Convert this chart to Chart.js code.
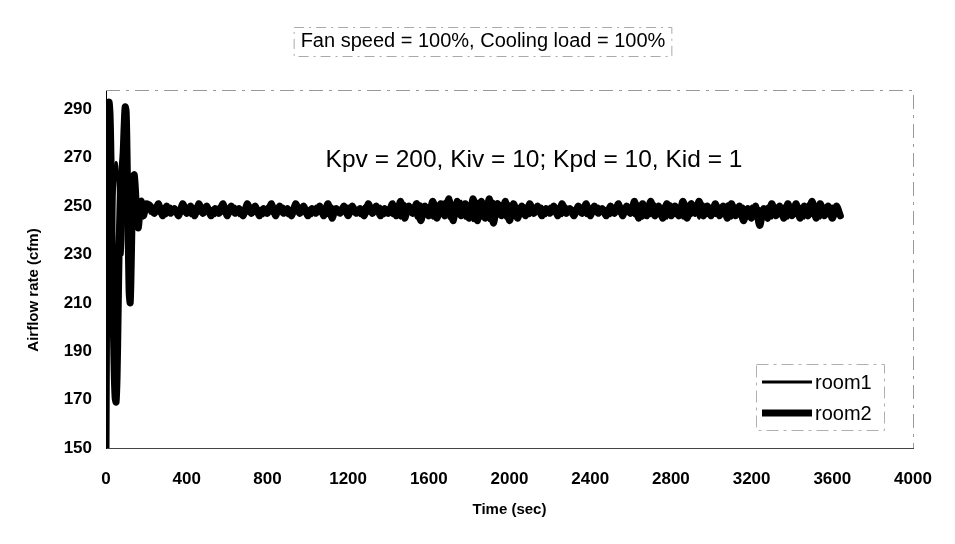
<!DOCTYPE html>
<html>
<head>
<meta charset="utf-8">
<title>Airflow rate</title>
<script src="https://cdn.jsdelivr.net/npm/chart.js@4.4.1/dist/chart.umd.min.js"></script>
<style>
  html, body { margin: 0; padding: 0; background: #fff; }
</style>
</head>
<body>
<canvas id="chart-airflow" width="955" height="544"></canvas>
<script>
const chartTitle = "Fan speed = 100%, Cooling load = 100%";
const gainNote = "Kpv = 200, Kiv = 10; Kpd = 10, Kid = 1";
const xTitle = "Time (sec)";
const yTitle = "Airflow rate (cfm)";
const seriesNames = ["room1", "room2"];
const xTicks = [0, 400, 800, 1200, 1600, 2000, 2400, 2800, 3200, 3600, 4000];
const yTicks = [150, 170, 190, 210, 230, 250, 270, 290];

// sample times (sec): 5 s steps during start-up, 20 s afterwards
const timeSec = [
  0, 5, 10, 15, 20, 25, 30, 35, 40, 45, 50, 55, 60, 65, 70, 75, 80, 85, 90, 95,
  100, 105, 110, 115, 120, 125, 130, 135, 140, 145, 150, 155, 160, 165, 170, 175, 180, 185, 190, 195, 200,
  220, 240, 260, 280, 300, 320, 340, 360, 380, 400,
  420, 440, 460, 480, 500, 520, 540, 560, 580, 600,
  620, 640, 660, 680, 700, 720, 740, 760, 780, 800,
  820, 840, 860, 880, 900, 920, 940, 960, 980, 1000,
  1020, 1040, 1060, 1080, 1100, 1120, 1140, 1160, 1180, 1200,
  1220, 1240, 1260, 1280, 1300, 1320, 1340, 1360, 1380, 1400,
  1420, 1440, 1460, 1480, 1500, 1520, 1540, 1560, 1580, 1600,
  1620, 1640, 1660, 1680, 1700, 1720, 1740, 1760, 1780, 1800,
  1820, 1840, 1860, 1880, 1900, 1920, 1940, 1960, 1980, 2000,
  2020, 2040, 2060, 2080, 2100, 2120, 2140, 2160, 2180, 2200,
  2220, 2240, 2260, 2280, 2300, 2320, 2340, 2360, 2380, 2400,
  2420, 2440, 2460, 2480, 2500, 2520, 2540, 2560, 2580, 2600,
  2620, 2640, 2660, 2680, 2700, 2720, 2740, 2760, 2780, 2800,
  2820, 2840, 2860, 2880, 2900, 2920, 2940, 2960, 2980, 3000,
  3020, 3040, 3060, 3080, 3100, 3120, 3140, 3160, 3180, 3200,
  3220, 3240, 3260, 3280, 3300, 3320, 3340, 3360, 3380, 3400,
  3420, 3440, 3460, 3480, 3500, 3520, 3540, 3560, 3580, 3600,
  3620, 3640
];

// airflow (cfm)
const room1 = [
  150, 260, 290, 285, 262, 240, 225, 232, 250, 264, 268, 265, 258, 248, 240, 232, 230, 238, 252, 262,
  264, 258, 246, 236, 232, 240, 252, 258, 256, 250, 244, 241, 244, 249, 252, 250, 247, 245, 247, 250, 251,
  247, 250, 247, 249, 246, 250, 247, 249, 247, 250,
  246, 249, 247, 250, 247, 249, 246, 250, 247, 249,
  247, 250, 246, 249, 247, 250, 247, 249, 246, 250,
  247, 249, 247, 250, 246, 249, 247, 250, 247, 249,
  246, 250, 247, 249, 246, 250, 247, 249, 247, 250,
  247, 249, 246, 250, 247, 249, 247, 250, 246, 249,
  246, 250, 245, 251, 247, 250, 245, 251, 246, 250,
  245, 251, 246, 252, 245, 251, 246, 252, 245, 251,
  244, 252, 245, 251, 244, 252, 246, 251, 245, 251,
  246, 250, 247, 250, 246, 249, 247, 250, 246, 250,
  247, 249, 246, 250, 247, 249, 247, 250, 246, 249,
  247, 250, 247, 249, 246, 250, 247, 249, 247, 250,
  246, 251, 245, 250, 246, 251, 246, 250, 245, 251,
  246, 250, 245, 251, 246, 250, 245, 251, 246, 250,
  246, 250, 246, 251, 245, 250, 246, 250, 245, 250,
  245, 249, 246, 250, 245, 250, 246, 250, 245, 250,
  246, 250, 245, 251, 246, 250, 245, 250, 246, 250,
  246, 249
];

const room2 = [
  150, 240, 287, 293, 288, 268, 238, 208, 184, 171, 169, 180, 205, 232, 252, 262, 266, 272, 283, 291,
  289, 268, 238, 214, 210, 226, 248, 260, 263, 258, 250, 243, 241, 245, 250, 252, 249, 246, 247, 250, 251,
  250, 247, 251, 246, 250, 247, 249, 246, 251, 247,
  250, 246, 251, 247, 250, 246, 249, 247, 251, 246,
  250, 247, 249, 246, 251, 247, 250, 246, 249, 247,
  251, 246, 250, 247, 249, 246, 251, 247, 250, 246,
  249, 247, 250, 246, 251, 245, 249, 247, 250, 246,
  250, 247, 249, 246, 251, 247, 250, 246, 249, 247,
  251, 246, 252, 245, 250, 247, 251, 244, 250, 246,
  252, 245, 251, 246, 253, 244, 252, 246, 251, 245,
  253, 244, 252, 245, 253, 243, 251, 246, 252, 244,
  251, 245, 250, 246, 251, 247, 250, 246, 249, 247,
  250, 246, 251, 247, 249, 246, 250, 247, 251, 246,
  250, 247, 249, 246, 250, 247, 251, 246, 250, 247,
  252, 245, 251, 246, 252, 246, 250, 245, 251, 246,
  250, 246, 252, 245, 251, 247, 252, 246, 250, 246,
  251, 246, 250, 245, 251, 246, 250, 244, 249, 245,
  250, 242, 249, 245, 251, 246, 250, 245, 251, 246,
  251, 245, 250, 246, 252, 245, 251, 246, 250, 245,
  250, 246
];

const labelFont = "'Liberation Sans', Arial, sans-serif";

function toPoints(values) {
  return timeSec.map((t, i) => ({ x: t, y: values[i] }));
}

// title, gain note, y title, legend and the faint frames
const overlayPlugin = {
  id: "overlay",
  beforeDraw(chart) {
    const ctx = chart.ctx;
    ctx.save();
    ctx.fillStyle = "#fff";
    ctx.fillRect(0, 0, chart.width, chart.height);
    ctx.restore();
  },
  afterDraw(chart) {
    const ctx = chart.ctx;
    const area = chart.chartArea;
    ctx.save();

    // plot frame (top and right)
    ctx.strokeStyle = "#9a9a9a";
    ctx.lineWidth = 1;
    ctx.setLineDash([14, 6, 3, 6]);
    ctx.beginPath();
    ctx.moveTo(area.left, area.top + 0.5);
    ctx.lineTo(area.right + 0.5, area.top + 0.5);
    ctx.lineTo(area.right + 0.5, area.bottom);
    ctx.stroke();

    // title
    ctx.setLineDash([]);
    ctx.fillStyle = "#000";
    ctx.font = "20px " + labelFont;
    ctx.textAlign = "center";
    ctx.textBaseline = "middle";
    ctx.fillText(chartTitle, 483, 41);
    const tw = ctx.measureText(chartTitle).width;
    ctx.strokeStyle = "#aaa";
    ctx.setLineDash([10, 5, 2, 5]);
    ctx.strokeRect(483 - tw / 2 - 6.5, 27.5, tw + 13, 29);

    // controller gains
    ctx.setLineDash([]);
    ctx.font = "24.5px " + labelFont;
    ctx.fillText(gainNote, 534, 160);

    // y axis title
    ctx.save();
    ctx.translate(34, 290);
    ctx.rotate(-Math.PI / 2);
    ctx.font = "bold 15px " + labelFont;
    ctx.fillText(yTitle, 0, 0);
    ctx.restore();

    // legend
    const lx = 762, ly = [382, 413];
    ctx.strokeStyle = "#000";
    ctx.lineCap = "butt";
    chart.data.datasets.forEach((ds, i) => {
      ctx.lineWidth = ds.borderWidth;
      ctx.beginPath();
      ctx.moveTo(lx, ly[i]);
      ctx.lineTo(lx + 50, ly[i]);
      ctx.stroke();
      ctx.font = "20px " + labelFont;
      ctx.textAlign = "left";
      ctx.fillText(ds.label, lx + 53, ly[i] + 1);
    });
    ctx.strokeStyle = "#b0b0b0";
    ctx.lineWidth = 1;
    ctx.setLineDash([12, 5, 3, 5]);
    ctx.strokeRect(756.5, 364.5, 128, 66);
    ctx.restore();
  }
};

new Chart(document.getElementById("chart-airflow"), {
  type: "line",
  data: {
    datasets: [
      {
        label: seriesNames[0],
        data: toPoints(room1),
        borderColor: "#000",
        borderWidth: 3,
        pointRadius: 0,
        tension: 0.3,
        order: 1
      },
      {
        label: seriesNames[1],
        data: toPoints(room2),
        borderColor: "#000",
        borderWidth: 7,
        pointRadius: 0,
        tension: 0.3,
        borderJoinStyle: "round",
        borderCapStyle: "round",
        order: 0
      }
    ]
  },
  options: {
    responsive: false,
    animation: false,
    layout: { padding: { left: 22, right: 42, top: 90, bottom: 21 } },
    plugins: {
      legend: { display: false },
      tooltip: { enabled: false }
    },
    scales: {
      x: {
        type: "linear",
        min: 0,
        max: 4000,
        afterBuildTicks: scale => { scale.ticks = xTicks.map(v => ({ value: v })); },
        afterFit: scale => { scale.height = 544 - 21 - 448; },
        grid: { display: false, drawTicks: false },
        border: { display: true, color: "#444", width: 1 },
        ticks: {
          padding: 21,
          color: "#000",
          maxRotation: 0,
          callback: value => String(value),
          font: { family: labelFont, size: 17, weight: "bold" }
        },
        title: {
          display: true,
          text: xTitle,
          color: "#000",
          font: { family: labelFont, size: 15, weight: "bold" }
        }
      },
      y: {
        min: 150,
        max: 298,
        afterBuildTicks: scale => { scale.ticks = yTicks.map(v => ({ value: v })); },
        afterFit: scale => { scale.width = 84; },
        grid: { display: false, drawTicks: false },
        border: { display: true, color: "#000", width: 1 },
        ticks: {
          padding: 14,
          color: "#000",
          font: { family: labelFont, size: 17, weight: "bold" }
        }
      }
    }
  },
  plugins: [overlayPlugin]
});
</script>
</body>
</html>
